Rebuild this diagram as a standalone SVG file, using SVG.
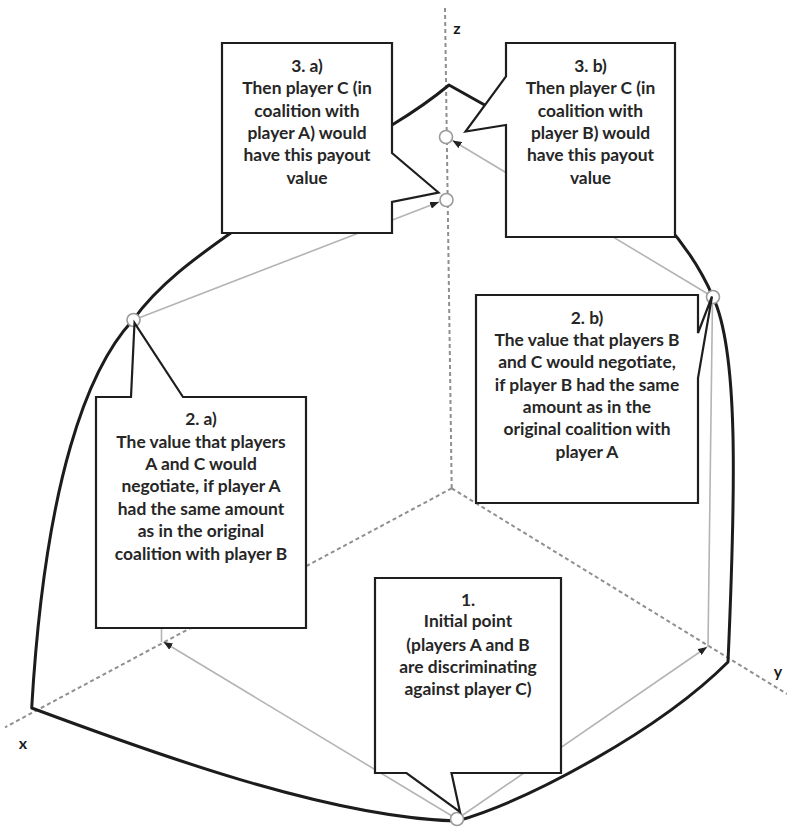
<svg xmlns="http://www.w3.org/2000/svg" width="787" height="828" viewBox="0 0 787 828">
<style>
.axis{stroke:#8f8f8f;stroke-width:2;stroke-dasharray:4 3;fill:none}
.curve{stroke:#1c1c1c;stroke-width:3;fill:none;stroke-linejoin:round;stroke-linecap:round}
.conn{stroke:#b4b4b4;stroke-width:1.6;fill:none}
.pt{fill:#fff;stroke:#9a9a9a;stroke-width:1.6}
.box{fill:#fff;stroke:#1e1e1e;stroke-width:2.2;stroke-linejoin:miter}
.t{font-family:Lato,"Open Sans",sans-serif;font-weight:bold;font-size:17.4px;fill:#262626;text-anchor:middle}
.ax{font-family:Lato,"Open Sans",sans-serif;font-weight:bold;font-size:16px;fill:#1a1a1a;text-anchor:middle}
</style>
<defs>
<marker id="ah" viewBox="0 0 10 8" refX="10" refY="4" markerWidth="9" markerHeight="7.2" markerUnits="userSpaceOnUse" orient="auto"><path d="M0,0 L10,4 L0,8 z" fill="#222"/></marker>
</defs>
<g id="axes">
<line class="axis" x1="445" y1="8" x2="451.7" y2="488.3"/>
<line class="axis" x1="451.7" y1="488.3" x2="5" y2="727.3"/>
<line class="axis" x1="451.7" y1="488.3" x2="787" y2="694"/>
<text class="ax" x="457" y="34">z</text>
<text class="ax" x="23" y="749">x</text>
<text class="ax" x="778" y="677">y</text>
</g>
<g id="connectors">
<line class="conn" x1="457" y1="819" x2="163.5" y2="642" marker-end="url(#ah)"/>
<line class="conn" x1="161.5" y1="642" x2="161.5" y2="600"/>
<line class="conn" x1="457" y1="819" x2="707" y2="647" marker-end="url(#ah)"/>
<line class="conn" x1="708" y1="647" x2="712.5" y2="300"/>
<line class="conn" x1="133.5" y1="320" x2="439" y2="202" marker-end="url(#ah)"/>
<line class="conn" x1="713" y1="297" x2="452.5" y2="140.5" marker-end="url(#ah)"/>
</g>
<g id="boundary">
<path class="curve" d="M133,320 C158,285 195,258 235,230 L392,125 Q425,105 449,85 L490,108 C600,150 680,220 713,297 C738,350 736,480 728,662 C660,730 530,800 457,821 C330,818 150,752 31.7,708 C45,480 88,368 133,320"/>
</g>
<g id="points">
<circle class="pt" cx="133.5" cy="320" r="6.5"/>
<circle class="pt" cx="713" cy="297" r="6.5"/>
<circle class="pt" cx="446.5" cy="200" r="6.5"/>
<circle class="pt" cx="446" cy="137" r="6.5"/>
<circle class="pt" cx="457" cy="819" r="6.5"/>
</g>
<g id="box-3a">
<path class="box" d="M222,43 H392 V153 L438.5,192.5 L392,202 V233 H222 Z"/>
<text class="t" x="307" y="72">3. a)</text>
<text class="t" x="307" y="94">Then player C (in</text>
<text class="t" x="307" y="116.5">coalition with</text>
<text class="t" x="307" y="139">player A) would</text>
<text class="t" x="307" y="161">have this payout</text>
<text class="t" x="307" y="184">value</text>
</g>
<g id="box-3b">
<path class="box" d="M506,43 H675 V237 H506 V125 L465.5,131.5 L506,76.5 Z"/>
<text class="t" x="590.5" y="72">3. b)</text>
<text class="t" x="590.5" y="94">Then player C (in</text>
<text class="t" x="590.5" y="116.5">coalition with</text>
<text class="t" x="590.5" y="139">player B) would</text>
<text class="t" x="590.5" y="161">have this payout</text>
<text class="t" x="590.5" y="184">value</text>
</g>
<g id="box-2a">
<path class="box" d="M96,397 H131 L134.5,323 L183,397 H306 V628 H96 Z"/>
<text class="t" x="201" y="425">2. a)</text>
<text class="t" x="201" y="448">The value that players</text>
<text class="t" x="201" y="469.5">A and C would</text>
<text class="t" x="201" y="492">negotiate, if player A</text>
<text class="t" x="201" y="515">had the same amount</text>
<text class="t" x="201" y="537">as in the original</text>
<text class="t" x="201" y="559.5">coalition with player B</text>
</g>
<g id="box-2b">
<path class="box" d="M476,295 H698 V333 L712,296.5 L698,378 V503 H476 Z"/>
<text class="t" x="587" y="324">2. b)</text>
<text class="t" x="587" y="345.5">The value that players B</text>
<text class="t" x="587" y="368">and C would negotiate,</text>
<text class="t" x="587" y="390.5">if player B had the same</text>
<text class="t" x="587" y="413">amount as in the</text>
<text class="t" x="587" y="435">original coalition with</text>
<text class="t" x="587" y="458">player A</text>
</g>
<g id="box-1">
<path class="box" d="M375,578 H561 V773 H451.5 L460,812 L406.5,773 H375 Z"/>
<text class="t" x="468" y="605.5">1.</text>
<text class="t" x="468" y="627">Initial point</text>
<text class="t" x="468" y="650.5">(players A and B</text>
<text class="t" x="468" y="673">are discriminating</text>
<text class="t" x="468" y="695">against player C)</text>
</g>
</svg>
